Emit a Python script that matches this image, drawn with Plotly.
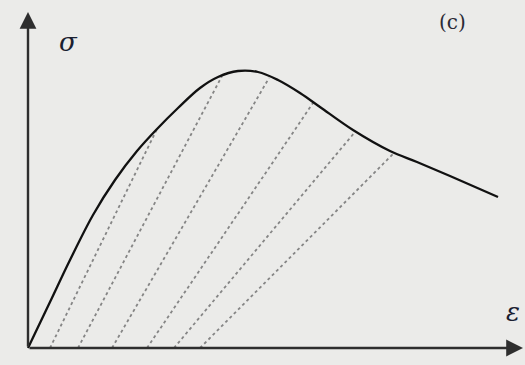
import plotly.graph_objects as go

# Envelope (backbone) stress-strain curve, arbitrary units
strain = [0.00, 0.22, 0.42, 0.65, 0.87, 1.09, 1.29, 1.50, 1.72, 1.90, 2.10, 2.30,
          2.50, 2.72, 2.92, 3.25, 3.62, 3.89, 4.22, 4.70]
stress = [0.00, 0.46, 0.88, 1.33, 1.68, 1.97, 2.19, 2.40, 2.60, 2.71, 2.77, 2.76,
          2.68, 2.55, 2.41, 2.18, 1.97, 1.86, 1.72, 1.51]

# Unloading paths: residual strain at zero stress -> point on the envelope
unload_start = [0.22, 0.50, 0.84, 1.19, 1.46, 1.72]
unload_end_strain = [1.29, 1.94, 2.41, 2.85, 3.27, 3.65]
unload_end_stress = [2.19, 2.72, 2.70, 2.45, 2.16, 1.94]

AXIS_X_END = 4.95
AXIS_Y_END = 3.36

BG = "#ebebe9"

fig = go.Figure()

for x0, x1, y1 in zip(unload_start, unload_end_strain, unload_end_stress):
    fig.add_trace(go.Scatter(
        x=[x0, x1], y=[0, y1], mode="lines",
        line=dict(color="#858585", width=1.8, dash="dot"),
        hoverinfo="skip", showlegend=False,
    ))

fig.add_trace(go.Scatter(
    x=strain, y=stress, mode="lines",
    line=dict(color="#111111", width=2.3, shape="spline", smoothing=1.0),
    hoverinfo="skip", showlegend=False,
))

# Coordinate axes with arrowheads
fig.add_annotation(x=AXIS_X_END, y=0, ax=0, ay=0, xref="x", yref="y", axref="x", ayref="y",
                   showarrow=True, arrowhead=2, arrowsize=1.4, arrowwidth=2.4,
                   arrowcolor="#2e2e2e", text="")
fig.add_annotation(x=0, y=AXIS_Y_END, ax=0, ay=0, xref="x", yref="y", axref="x", ayref="y",
                   showarrow=True, arrowhead=2, arrowsize=1.4, arrowwidth=2.4,
                   arrowcolor="#2e2e2e", text="")

serif = "DejaVu Serif"
fig.add_annotation(x=0.40, y=3.06, text="<i>σ</i>", showarrow=False,
                   font=dict(family=serif, size=26, color="#1a2030"))
fig.add_annotation(x=4.24, y=3.26, text="(c)", showarrow=False,
                   font=dict(family=serif, size=20, color="#2a2a35"))
fig.add_annotation(x=4.85, y=0.36, text="<i>ε</i>", showarrow=False,
                   font=dict(family=serif, size=26, color="#1a2030"))

fig.update_layout(
    width=525, height=365,
    margin=dict(l=0, r=0, t=0, b=0),
    paper_bgcolor=BG, plot_bgcolor=BG,
    xaxis=dict(range=[-0.28, 4.97], visible=False, fixedrange=True),
    yaxis=dict(range=[-0.17, 3.48], visible=False, fixedrange=True),
)

fig.write_html("out.html")
